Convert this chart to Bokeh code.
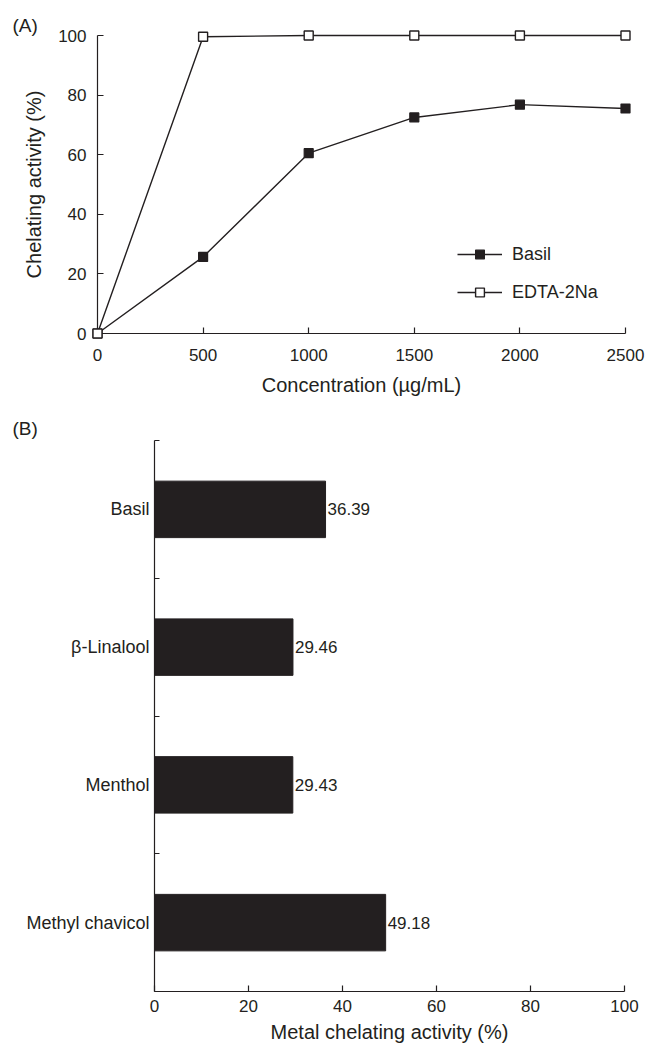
from bokeh.plotting import figure
from bokeh.models import Range1d, FixedTicker, Legend, LegendItem
from bokeh.embed import file_html
from bokeh.resources import INLINE
from bokeh.core.properties import value

# ---- data (A) ----
concentrations = [0, 500, 1000, 1500, 2000, 2500]
basil_activity = [0, 25.7, 60.5, 72.5, 76.8, 75.5]
edta_activity = [0, 99.6, 100, 100, 100, 100]
x_ticks_a = [0, 500, 1000, 1500, 2000, 2500]
y_ticks_a = [0, 20, 40, 60, 80, 100]

# ---- data (B) ----
compounds = ["Basil", "β-Linalool", "Menthol", "Methyl chavicol"]
metal_chelating = [36.39, 29.46, 29.43, 49.18]
value_labels = ["36.39", "29.46", "29.43", "49.18"]
x_ticks_b = [0, 20, 40, 60, 80, 100]

FONT = "Liberation Sans"
INK = "#231f20"


def style_axis(ax, tick_size="17px"):
    ax.axis_line_color = INK
    ax.axis_line_width = 1.2
    ax.major_tick_line_color = INK
    ax.major_tick_line_width = 1.2
    ax.major_tick_in = 6
    ax.major_tick_out = 0
    ax.minor_tick_line_color = None
    ax.major_label_text_font = FONT
    ax.major_label_text_font_size = tick_size
    ax.major_label_text_color = INK
    ax.axis_label_text_font = FONT
    ax.axis_label_text_font_size = "20px"
    ax.axis_label_text_font_style = "normal"
    ax.axis_label_text_color = INK


def style_title(p, text, offset, standoff):
    p.title.text = text
    p.title.align = "left"
    p.title.offset = offset
    p.title.standoff = standoff
    p.title.text_font = FONT
    p.title.text_font_size = "19px"
    p.title.text_font_style = "normal"
    p.title.text_color = INK


# ================= Figure A =================
pA = figure(width=645, height=404, output_backend="svg", toolbar_location=None,
            x_range=Range1d(0, 2500), y_range=Range1d(0, 100),
            min_border_left=97, min_border_right=20, min_border_top=35,
            min_border_bottom=71)
pA.outline_line_color = None
pA.xgrid.visible = False
pA.ygrid.visible = False
style_title(pA, "(A)", -85, 0)

xa = pA.xaxis[0]
ya = pA.yaxis[0]
style_axis(xa)
style_axis(ya)
xa.ticker = FixedTicker(ticks=x_ticks_a)
ya.ticker = FixedTicker(ticks=y_ticks_a)
xa.axis_label = "Concentration (µg/mL)"
ya.axis_label = "Chelating activity (%)"
xa.major_label_standoff = 15
xa.axis_label_standoff = 10
ya.major_label_standoff = 11
ya.axis_label_standoff = 10

l_basil = pA.line(concentrations, basil_activity, line_color=INK, line_width=1.4,
                  level="overlay")
l_edta = pA.line(concentrations, edta_activity, line_color=INK, line_width=1.4,
                 level="overlay")
s_basil = pA.scatter(concentrations, basil_activity, marker="square", size=9,
                     fill_color=INK, line_color=INK, line_width=1.2, level="overlay")
s_edta = pA.scatter(concentrations, edta_activity, marker="square", size=9,
                    fill_color="white", line_color=INK, line_width=1.4, level="overlay")

legend = Legend(items=[LegendItem(label="Basil", renderers=[l_basil, s_basil]),
                       LegendItem(label="EDTA-2Na", renderers=[l_edta, s_edta])],
                location=(360, 30))
legend.label_text_font = FONT
legend.label_text_font_size = "18px"
legend.label_text_color = INK
legend.glyph_width = 45
legend.glyph_height = 22
legend.label_height = 22
legend.label_standoff = 10
legend.spacing = 16
legend.padding = 0
legend.margin = 0
legend.border_line_color = None
legend.background_fill_alpha = 0
pA.add_layout(legend)

# ================= Figure B =================
positions = [i + 1 for i in range(len(compounds))]
boundaries = [i + 0.5 for i in range(len(compounds) + 1)]

pB = figure(width=645, height=643, output_backend="svg", toolbar_location=None,
            x_range=Range1d(0, 100), y_range=Range1d(len(compounds) + 0.5, 0.5),
            min_border_left=154, min_border_right=21, min_border_top=36,
            min_border_bottom=56)
pB.outline_line_color = None
pB.xgrid.visible = False
pB.ygrid.visible = False
style_title(pB, "(B)", -142, 3)

xb = pB.xaxis[0]
yb = pB.yaxis[0]
style_axis(xb)
style_axis(yb, tick_size="18px")
xb.ticker = FixedTicker(ticks=x_ticks_b)
xb.axis_label = "Metal chelating activity (%)"
xb.major_label_standoff = 8
xb.axis_label_standoff = 6
yb.ticker = FixedTicker(ticks=positions, minor_ticks=boundaries)
yb.major_label_overrides = {pos: name for pos, name in zip(positions, compounds)}
yb.major_tick_in = 0
yb.major_tick_out = 0
yb.minor_tick_line_color = INK
yb.minor_tick_line_width = 1.2
yb.minor_tick_in = 5
yb.minor_tick_out = 0
yb.major_label_standoff = 5

pB.hbar(y=positions, right=metal_chelating, left=0, height=0.41,
        fill_color=INK, line_color=INK)
pB.text(x=metal_chelating, y=positions, text=value_labels, x_offset=2,
        text_align="left", text_baseline="middle", text_font=value(FONT),
        text_font_size="17px", text_color=INK)

open("out.html", "w").write(file_html([pA, pB], INLINE))
